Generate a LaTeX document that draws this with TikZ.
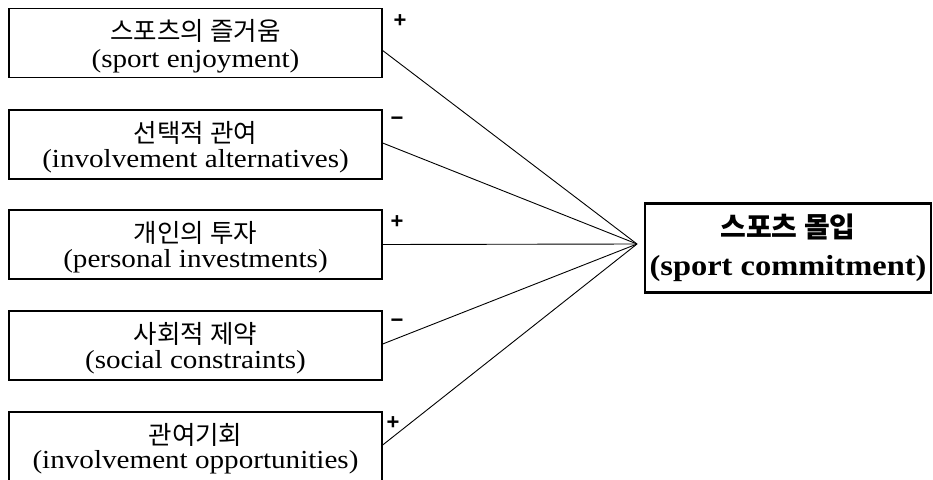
\documentclass[tikz,border=0pt]{standalone}
\usepackage{fontspec}
\newfontfamily\lat{Liberation Serif}[FakeStretch=1.12]
\newfontfamily\kr{Noto Sans CJK KR}
\newfontfamily\sgn{Liberation Sans}
\begin{document}
\begin{tikzpicture}[x=1pt,y=-1pt,
  factor/.style={draw=black,line width=1.3pt,minimum width=373pt,minimum height=69pt,inner sep=0pt},
  goal/.style={draw=black,line width=2.6pt,minimum width=286pt,minimum height=89pt,inner sep=0pt},
  krtext/.style={inner sep=0pt,font={\kr\fontsize{25.5}{30}\selectfont}},
  lattext/.style={inner sep=0pt,anchor=base,font={\lat\fontsize{26}{30}\selectfont}},
  goalkr/.style={inner sep=0pt,font={\kr\bfseries\fontsize{28}{32}\selectfont}},
  goallat/.style={inner sep=0pt,anchor=base,font={\lat\bfseries\fontsize{29}{32}\selectfont}},
  link/.style={draw=black,line width=0.9pt},
  sign/.style={font={\sgn\bfseries\fontsize{22}{22}\selectfont},inner sep=0pt}]
\useasboundingbox (0,0) rectangle (933,479);
\clip (0,0) rectangle (933,479);
% factor boxes
\node[factor] (b1) at (195.5,43) {};
\node[factor] (b2) at (195.5,144.5) {};
\node[factor] (b3) at (195.5,244.5) {};
\node[factor] (b4) at (195.5,345.5) {};
\node[factor] (b5) at (195.5,446.5) {};
% texts
\node[krtext] (t1k) at ([yshift=-23.5pt]b1.north) {스포츠의 즐거움};
\node[lattext] (t1l) at ([yshift=-59.5pt]b1.north) {(sport enjoyment)};
\node[krtext] (t2k) at ([yshift=-23.5pt]b2.north) {선택적 관여};
\node[lattext] (t2l) at ([yshift=-58.5pt]b2.north) {(involvement alternatives)};
\node[krtext] (t3k) at ([yshift=-23.5pt]b3.north) {개인의 투자};
\node[lattext] (t3l) at ([yshift=-58.5pt]b3.north) {(personal investments)};
\node[krtext] (t4k) at ([yshift=-23.5pt]b4.north) {사회적 제약};
\node[lattext] (t4l) at ([yshift=-58.5pt]b4.north) {(social constraints)};
\node[krtext] (t5k) at ([yshift=-23.5pt]b5.north) {관여기회};
\node[lattext] (t5l) at ([yshift=-57.5pt]b5.north) {(involvement opportunities)};
% goal box
\node[goal] (g) at (788,248) {};
\node[goalkr] (gk) at ([yshift=-25pt]g.north) {스포츠 몰입};
\node[goallat] (gl) at ([yshift=-73pt]g.north) {(sport commitment)};
% connectors
\coordinate (c) at (637,244);
\coordinate (s1) at (382,50);
\draw[link] (s1) -- (c);
\draw[link] ([yshift=1.5pt]b2.east) -- (c);
\draw[link] (b3.east) -- (c);
\draw[link] ([yshift=1.5pt]b4.east) -- (c);
\draw[link] ([yshift=1.5pt]b5.east) -- (c);
% signs
\node[sign] (p1) at (400,21) {+};
\node[sign] (m2) at (397,121) {−};
\node[sign] (p3) at (397,222) {+};
\node[sign] (m4) at (397,323) {−};
\node[sign] (p5) at (393,423) {+};
\end{tikzpicture}
\end{document}
